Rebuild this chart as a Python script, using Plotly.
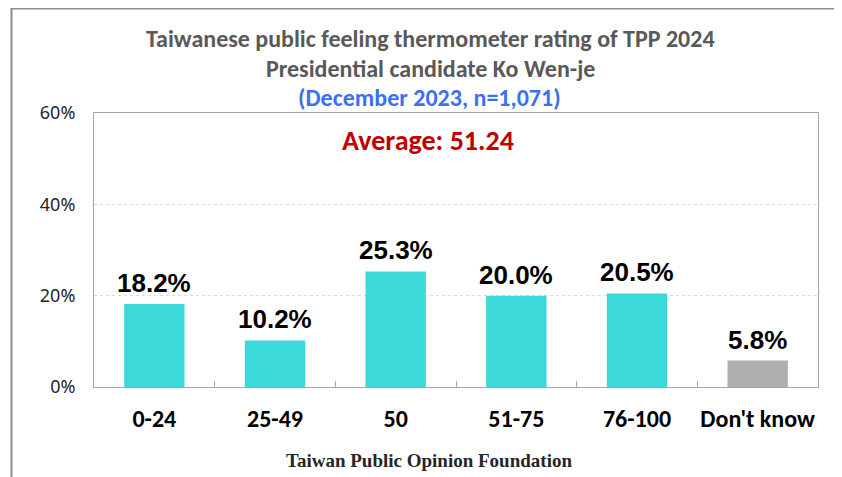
import plotly.graph_objects as go

categories = ["0-24", "25-49", "50", "51-75", "76-100", "Don't know"]
values = [18.2, 10.2, 25.3, 20.0, 20.5, 5.8]
y_ticks = [0, 20, 40, 60]
y_tick_labels = ["0%", "20%", "40%", "60%"]

TEAL = "#3BD9D9"
GREY = "#AFAFAF"
bar_colors = [TEAL] * 5 + [GREY]

# the page body adds an 8px offset; work in window pixels
OFF = 8
W, H = 842 - OFF, 477 - OFF
L, T = 94 - OFF, 113 - OFF
R = W - (818 - OFF)
B = H - (387 - OFF)
pw, ph = W - L - R, H - T - B

def px_x(px):
    return (px - OFF - L) / pw

def px_y(py):
    return (H - B - (py - OFF)) / ph

CAL = "Carlito, Calibri, Lato, sans-serif"

fig = go.Figure()
fig.add_trace(go.Bar(
    x=categories, y=values, marker=dict(color=bar_colors, line=dict(width=0)),
    width=0.5, hoverinfo="skip", cliponaxis=False,
))

for i, v in enumerate(values):
    fig.add_annotation(
        x=i, y=v, xref="x", yref="y", text=f"<b>{v:.1f}%</b>", showarrow=False,
        yanchor="bottom", yshift=4,
        font=dict(family="Liberation Sans, Arial, sans-serif", size=26, color="#000000"),
    )

fig.add_annotation(
    x=px_x(430), y=px_y(38), xref="paper", yref="paper", showarrow=False,
    text="<b>Taiwanese public feeling thermometer rating of TPP 2024</b>",
    font=dict(family=CAL, size=24, color="#595959"), yanchor="middle",
)
fig.add_annotation(
    x=px_x(430), y=px_y(68), xref="paper", yref="paper", showarrow=False,
    text="<b>Presidential candidate Ko Wen-je</b>",
    font=dict(family=CAL, size=24, color="#595959"), yanchor="middle",
)
fig.add_annotation(
    x=px_x(429), y=px_y(97), xref="paper", yref="paper", showarrow=False,
    text="<b>(December 2023, n=1,071)</b>",
    font=dict(family=CAL, size=24, color="#3D6FF3"), yanchor="middle",
)
fig.add_annotation(
    x=px_x(428), y=px_y(140), xref="paper", yref="paper", showarrow=False,
    text="<b>Average: 51.24</b>",
    font=dict(family=CAL, size=28, color="#C00000"), yanchor="middle",
)
fig.add_annotation(
    x=px_x(429), y=px_y(460), xref="paper", yref="paper", showarrow=False,
    text="<b>Taiwan Public Opinion Foundation</b>",
    font=dict(family="Liberation Serif, serif", size=19, color="#262626"), yanchor="middle",
)

# outer frame lines (top and left)
fig.add_shape(type="line", xref="paper", yref="paper",
              x0=px_x(11), x1=px_x(850), y0=px_y(8.5), y1=px_y(8.5),
              line=dict(color="#8C8C8C", width=2))
fig.add_shape(type="line", xref="paper", yref="paper",
              x0=px_x(11.5), x1=px_x(11.5), y0=px_y(8), y1=px_y(480),
              line=dict(color="#8C8C8C", width=2))

fig.update_layout(
    width=W, height=H,
    margin=dict(l=L, r=R, t=T, b=B, pad=0),
    paper_bgcolor="white", plot_bgcolor="white",
    showlegend=False,
    xaxis=dict(
        type="category", range=[-0.5, 5.5],
        showline=True, linecolor="#A6A6A6", linewidth=1, mirror=True,
        ticks="inside", ticklen=6, tickcolor="#A6A6A6", tickson="boundaries",
        tickfont=dict(family=CAL, size=24, color="#000000", weight="bold"), tickangle=0,
        ticklabelstandoff=10, showgrid=False, fixedrange=True,
    ),
    yaxis=dict(
        range=[0, 60], tickvals=y_ticks, ticktext=y_tick_labels,
        showline=True, linecolor="#A6A6A6", linewidth=1, mirror=True,
        showgrid=True, gridcolor="#D9D9D9", griddash="dot", gridwidth=1,
        zeroline=False, ticks="",
        tickfont=dict(family="Noto Sans, Open Sans, sans-serif", size=18, color="#262626"),
        ticklabelstandoff=14, fixedrange=True,
    ),
)

fig.write_html("out.html")
